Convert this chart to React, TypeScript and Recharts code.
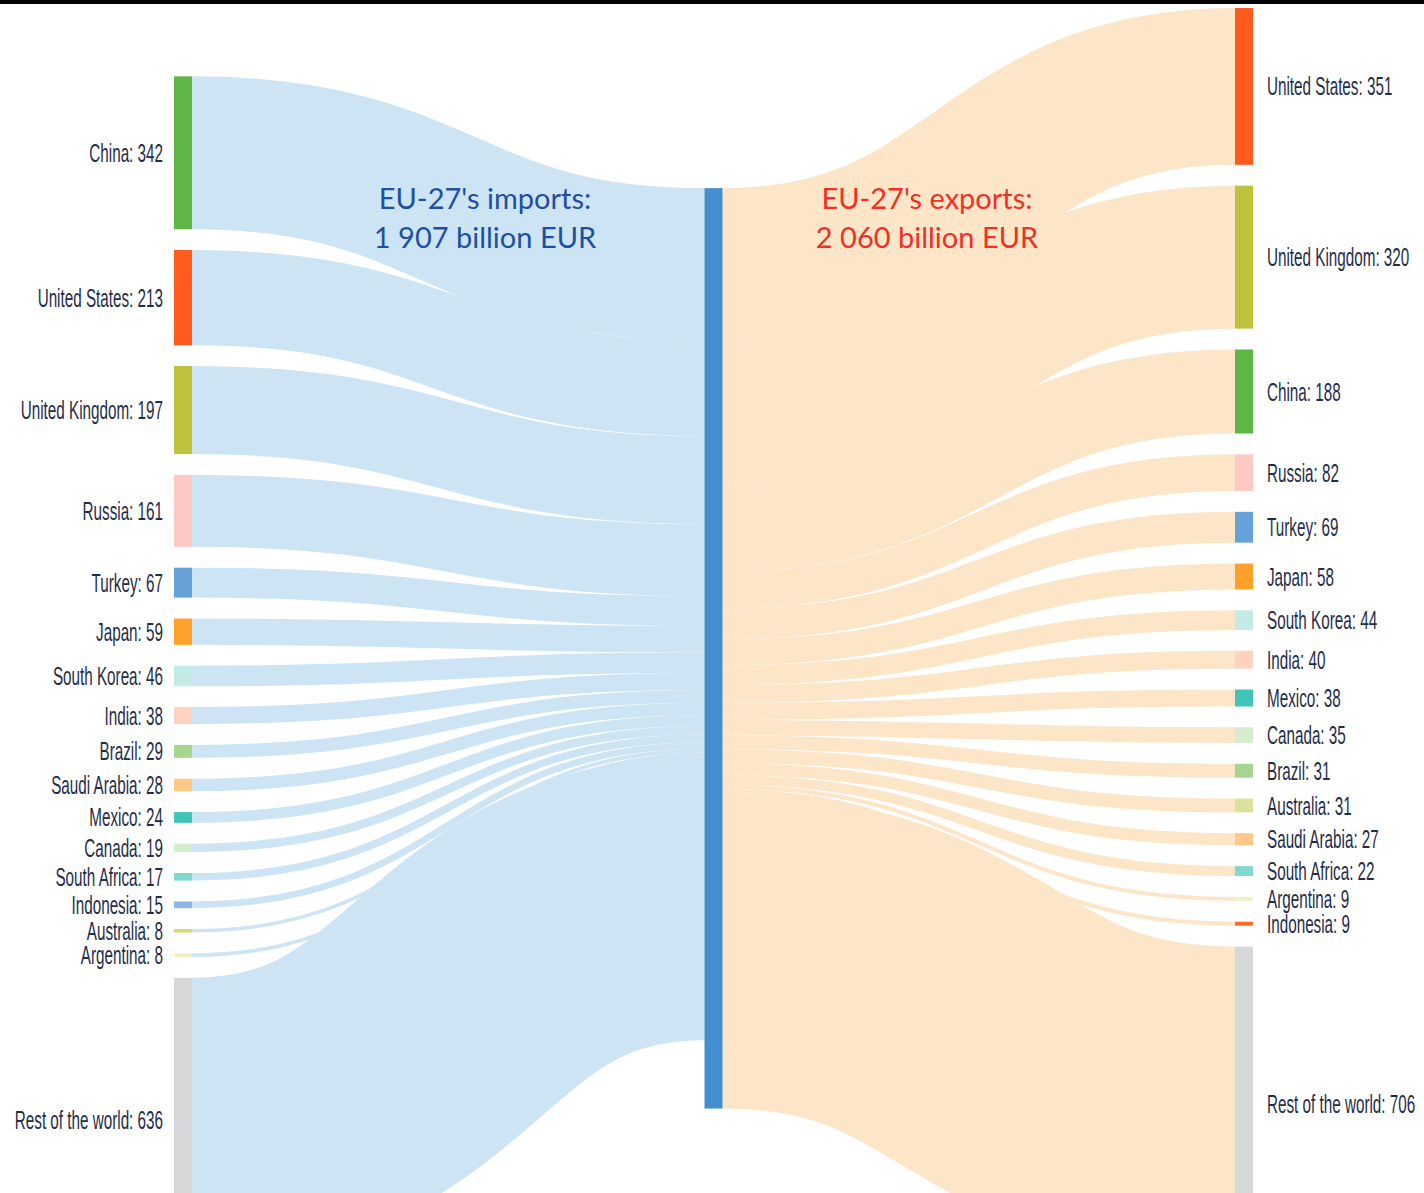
import { Sankey } from "recharts";

// ── Trade data (billion EUR) ────────────────────────────────────────────

const importNames = [
  "China", "United States", "United Kingdom", "Russia", "Turkey", "Japan",
  "South Korea", "India", "Brazil", "Saudi Arabia", "Mexico", "Canada",
  "South Africa", "Indonesia", "Australia", "Argentina", "Rest of the world",
];
const importValues = [342, 213, 197, 161, 67, 59, 46, 38, 29, 28, 24, 19, 17, 15, 8, 8, 636];
const importColors = [
  "#5db646", "#ff5b1f", "#bec23c", "#fcc9c4", "#65a2d8", "#fea12b",
  "#c3ebe6", "#fdd3bf", "#a4d690", "#fec88a", "#40c4b8", "#d6ecce",
  "#7fd9d1", "#8db6e2", "#d6d877", "#eef1c8", "#d6d7d9",
];

const exportNames = [
  "United States", "United Kingdom", "China", "Russia", "Turkey", "Japan",
  "South Korea", "India", "Mexico", "Canada", "Brazil", "Australia",
  "Saudi Arabia", "South Africa", "Argentina", "Indonesia", "Rest of the world",
];
const exportValues = [351, 320, 188, 82, 69, 58, 44, 40, 38, 35, 31, 31, 27, 22, 9, 9, 706];
const exportColors = [
  "#ff5b1f", "#bec23c", "#5db646", "#fcc9c4", "#65a2d8", "#fea12b",
  "#c3ebe6", "#fdd3bf", "#40c4b8", "#d6ecce", "#a4d690", "#dde09a",
  "#fec88a", "#7fd9d1", "#eef1c8", "#ff6a2b", "#d6d7d9",
];

const hubName = "EU-27";
const hubColor = "#448fcf";
const importLinkColor = "#cde4f4";
const exportLinkColor = "#fde5c8";

const nodes = [
  ...importNames.map((name, i) => ({ name, value: importValues[i], color: importColors[i] })),
  { name: hubName, value: 0, color: hubColor },
  ...exportNames.map((name, i) => ({ name, value: exportValues[i], color: exportColors[i] })),
];
const hubIndex = importNames.length;
const links = [
  ...importValues.map((value, i) => ({ source: i, target: hubIndex, value })),
  ...exportValues.map((value, i) => ({ source: hubIndex, target: hubIndex + 1 + i, value })),
];

const labelFont = "'Liberation Sans Narrow', 'Liberation Sans', Arial, sans-serif";
const labelScale = 0.61;

function SankeyNode(props: any) {
  const { x, y, width, height, payload } = props;
  const cy = y + height / 2;
  const depth = payload.depth;
  return (
    <g>
      <rect x={x} y={y} width={width} height={height} fill={payload.color} />
      {depth === 0 && (
        <text
          transform={`translate(${x - 11},${cy}) scale(${labelScale},1)`}
          textAnchor="end"
          dominantBaseline="central"
          fontFamily={labelFont}
          fontSize={25}
          fill="#1f2d4a"
        >
          {`${payload.name}: ${payload.value}`}
        </text>
      )}
      {depth === 2 && (
        <text
          transform={`translate(${x + width + 14},${cy}) scale(${labelScale},1)`}
          textAnchor="start"
          dominantBaseline="central"
          fontFamily={labelFont}
          fontSize={25}
          fill="#1f2d4a"
        >
          {`${payload.name}: ${payload.value}`}
        </text>
      )}
    </g>
  );
}

function SankeyLink(props: any) {
  const { sourceX, sourceY, targetX, targetY, sourceControlX, targetControlX, linkWidth, index } = props;
  const color = index < importNames.length ? importLinkColor : exportLinkColor;
  return (
    <path
      d={`M${sourceX},${sourceY} C${sourceControlX},${sourceY} ${targetControlX},${targetY} ${targetX},${targetY}`}
      fill="none"
      stroke={color}
      strokeWidth={linkWidth}
    />
  );
}

export default function App() {
  return (
    <div style={{ position: "relative", width: 1424, height: 1193, overflow: "hidden", background: "#fff" }}>
      <style>{"body{margin:0}"}</style>
      <Sankey
        width={1424}
        height={1275}
        data={{ nodes, links }}
        nodeWidth={18}
        nodePadding={20.85}
        margin={{ top: 8, right: 171, bottom: 13, left: 174 }}
        sort={false}
        node={<SankeyNode />}
        link={<SankeyLink />}
      />

      {/* Titles */}
      <div
        style={{
          position: "absolute", left: 335, top: 178, width: 300, textAlign: "center",
          fontFamily: "Lato, sans-serif", fontSize: 29, lineHeight: "39px", color: "#1d50a3",
        }}
      >
        EU-27's imports:<br />1 907 billion EUR
      </div>
      <div
        style={{
          position: "absolute", left: 777, top: 178, width: 300, textAlign: "center",
          fontFamily: "Lato, sans-serif", fontSize: 29, lineHeight: "39px", color: "#ee3124",
        }}
      >
        EU-27's exports:<br />2 060 billion EUR
      </div>

      <div style={{ position: "absolute", left: 0, top: 0, width: 1424, height: 4, background: "#000" }} />
    </div>
  );
}
